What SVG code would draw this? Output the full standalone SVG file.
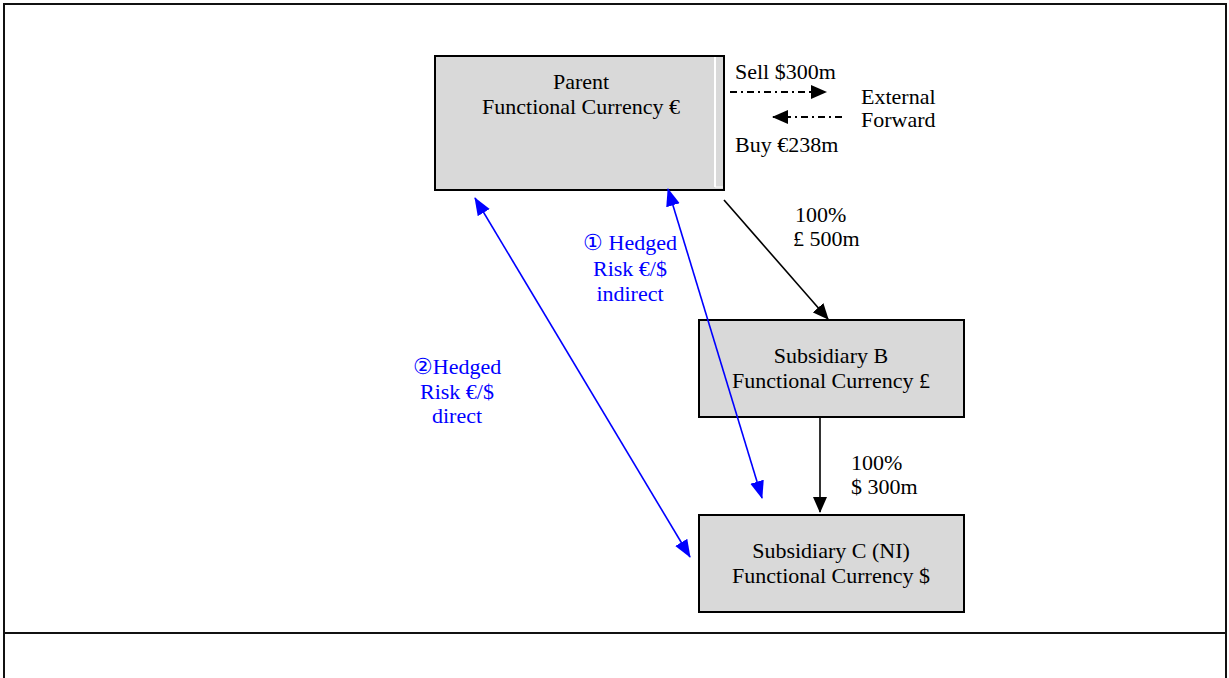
<svg xmlns="http://www.w3.org/2000/svg" width="1229" height="678" viewBox="0 0 1229 678">
  <style>
    .frame { fill: none; stroke: #111; stroke-width: 2; }
    .box { fill: #d9d9d9; stroke: #000; stroke-width: 2; }
    .t { font-family: "Liberation Serif", "Times New Roman", serif; font-size: 22px; fill: #000; }
    .c { text-anchor: middle; }
    .blue { fill: #0000ff; }
    .link { fill: none; stroke: #000; stroke-width: 1.6; }
    .fwd { fill: none; stroke: #000; stroke-width: 1.8; stroke-dasharray: 7 4 2 4; }
    .hedge { fill: none; stroke: #0000ff; stroke-width: 1.6; }
  </style>
  <defs>
    <marker id="ahf" markerWidth="16" markerHeight="16" refX="15" refY="8" orient="auto" markerUnits="userSpaceOnUse" viewBox="0 0 16 16">
      <path d="M0,1 L16,8 L0,15 Z" fill="#000"/>
    </marker>
    <marker id="ab" markerWidth="18" markerHeight="16" refX="17" refY="8" orient="auto" markerUnits="userSpaceOnUse" viewBox="0 0 18 16">
      <path d="M0,1 L18,8 L0,15 Z" fill="#0000ff"/>
    </marker>
    <marker id="abs" markerWidth="18" markerHeight="16" refX="1" refY="8" orient="auto" markerUnits="userSpaceOnUse" viewBox="0 0 18 16">
      <path d="M18,1 L0,8 L18,15 Z" fill="#0000ff"/>
    </marker>
  </defs>

  <rect width="1229" height="678" fill="#fff"/>

  <!-- outer frame -->
  <g id="frame">
    <path class="frame" d="M4,678 V4 H1226 V678"/>
    <line class="frame" x1="4" y1="633" x2="1226" y2="633"/>
  </g>

  <g id="parent">
    <rect class="box" x="435" y="56" width="289" height="134"/>
    <line x1="715" y1="57" x2="715" y2="187" stroke="#fff" stroke-width="2"/>
    <line x1="715" y1="187" x2="723" y2="187" stroke="#fff" stroke-width="1"/>
    <text class="t c" x="581" y="89">Parent</text>
    <text class="t c" x="581" y="114">Functional Currency €</text>
  </g>

  <g id="external-forward">
    <text class="t" x="735" y="79">Sell $300m</text>
    <text class="t" x="861" y="104">External</text>
    <text class="t" x="861" y="127">Forward</text>
    <text class="t" x="735" y="152">Buy €238m</text>
  </g>

  <g id="subsidiary-b">
    <rect class="box" x="699" y="320" width="265" height="97"/>
    <text class="t c" x="831" y="363">Subsidiary B</text>
    <text class="t c" x="831" y="388">Functional Currency £</text>
  </g>

  <g id="subsidiary-c">
    <rect class="box" x="699" y="515" width="265" height="97"/>
    <text class="t c" x="831" y="558">Subsidiary C (NI)</text>
    <text class="t c" x="831" y="583">Functional Currency $</text>
  </g>

  <!-- connectors, drawn over the boxes -->
  <g id="connectors">
    <line class="link" x1="724" y1="200" x2="828" y2="319" marker-end="url(#ahf)"/>
    <line class="link" x1="820" y1="417" x2="820" y2="512" marker-end="url(#ahf)"/>
    <line class="fwd" x1="730" y1="92" x2="826" y2="92" marker-end="url(#ahf)"/>
    <line class="fwd" x1="842" y1="117" x2="773" y2="117" marker-end="url(#ahf)"/>
    <line class="hedge" x1="668" y1="189" x2="762" y2="498" marker-start="url(#abs)" marker-end="url(#ab)"/>
    <line class="hedge" x1="475" y1="198" x2="690" y2="557" marker-start="url(#abs)" marker-end="url(#ab)"/>
  </g>

  <g id="link-labels">
    <text class="t" x="795" y="222">100%</text>
    <text class="t" x="793" y="246">£ 500m</text>
    <text class="t" x="851" y="470">100%</text>
    <text class="t" x="851" y="494">$ 300m</text>
  </g>

  <g id="hedge-labels">
    <text class="t c blue" x="630" y="250">① Hedged</text>
    <text class="t c blue" x="630" y="276">Risk €/$</text>
    <text class="t c blue" x="630" y="301">indirect</text>
    <text class="t c blue" x="457" y="374">②Hedged</text>
    <text class="t c blue" x="457" y="399">Risk €/$</text>
    <text class="t c blue" x="457" y="423">direct</text>
  </g>
</svg>
